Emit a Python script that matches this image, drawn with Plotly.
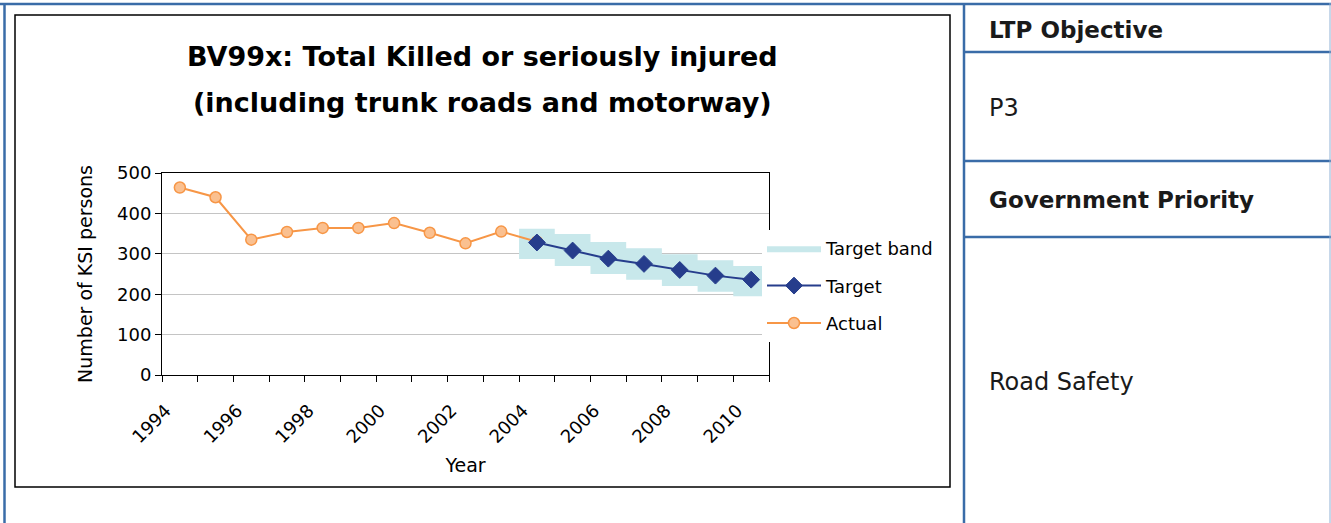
import plotly.graph_objects as go

# ---------------- data ----------------
years = list(range(1994, 2011))
actual_years = list(range(1994, 2005))
actual_values = [464, 440, 335, 354, 364, 364, 376, 352, 326, 355, 330]
target_years = list(range(2004, 2011))
target_values = [328, 308, 288, 275, 260, 246, 236]
band_high = [362, 349, 329, 314, 299, 284, 270]
band_low = [287, 270, 250, 236, 220, 206, 195]
tick_years = years[::2]
tick_labels = [str(y) for y in tick_years]
y_ticks = [0, 100, 200, 300, 400, 500]

title_lines = ["BV99x: Total Killed or seriously injured",
               "(including trunk roads and motorway)"]
side_header_1 = "LTP Objective"
side_value_1 = "P3"
side_header_2 = "Government Priority"
side_value_2 = "Road Safety"

# ---------------- layout geometry ----------------
W, H = 1331, 523
ML, MR, MT, MB = 162, 562, 173, 148
PW = W - ML - MR
PH = H - MT - MB


def px(x):
    return (x - ML) / PW


def py(y):
    return (H - MB - y) / PH


FONT = "DejaVu Sans"
BLUE = "#3a6ca8"
ORANGE = "#f79646"
NAVY = "#263d8c"
BAND = "#c8e8eb"

# band polygon derived from the band arrays (one category wide per year)
band_x, band_y = [], []
for yr, hi in zip(target_years, band_high):
    band_x += [yr - 0.5, yr + 0.5]
    band_y += [hi, hi]
for yr, lo in zip(reversed(target_years), reversed(band_low)):
    band_x += [yr + 0.5, yr - 0.5]
    band_y += [lo, lo]

fig = go.Figure()
fig.add_trace(go.Scatter(
    x=band_x, y=band_y, fill="toself", fillcolor=BAND, mode="lines",
    line=dict(width=0, color=BAND), name="Target band", legendgroup="a",
    legendrank=1, hoverinfo="skip"))
fig.add_trace(go.Scatter(
    x=actual_years, y=actual_values, mode="lines+markers", name="Actual",
    line=dict(color=ORANGE, width=2), legendgroup="c", legendrank=3,
    marker=dict(symbol="circle", size=11, color="#fac090",
                line=dict(color=ORANGE, width=1.5))))
fig.add_trace(go.Scatter(
    x=target_years, y=target_values, mode="lines+markers", name="Target",
    line=dict(color=NAVY, width=2), legendgroup="b", legendrank=2,
    marker=dict(symbol="diamond", size=13, color=NAVY,
                line=dict(color=NAVY, width=1))))

boundaries = [y - 0.5 for y in years] + [years[-1] + 0.5]

fig.update_xaxes(
    range=[years[0] - 0.5, years[-1] + 0.5],
    tickmode="array", tickvals=tick_years, ticktext=tick_labels,
    ticks="", tickangle=-45, tickfont=dict(family=FONT, size=18, color="black"),
    ticklabelshift=-14, ticklabelstandoff=17,
    showline=True, linecolor="black", linewidth=1, mirror=True,
    showgrid=False, zeroline=False,
    minor=dict(tickmode="array", tickvals=boundaries, ticks="outside",
               ticklen=6, tickcolor="black", tickwidth=1, showgrid=False),
    title=dict(text="Year", font=dict(family=FONT, size=19, color="black"),
               standoff=12),
)
fig.update_yaxes(
    range=[0, 500], tickmode="array", tickvals=y_ticks,
    ticks="outside", ticklen=6, tickcolor="black",
    tickfont=dict(family=FONT, size=18, color="black"),
    showline=True, linecolor="black", linewidth=1, mirror=True,
    showgrid=True, gridcolor="#c4c4c4", gridwidth=1, zeroline=False,
    title=dict(text="Number of KSI persons",
               font=dict(family=FONT, size=19, color="black"), standoff=19),
)

shapes = []
# chart frame
shapes.append(dict(type="rect", xref="paper", yref="paper",
                   x0=px(15), x1=px(950), y0=py(15), y1=py(487),
                   line=dict(color="black", width=1.5)))
# outer table borders
blue_lines = [
    (0, 4, W, 4),
    (4.5, 3, 4.5, H),
    (964, 3, 964, H),
    (964, 52, W, 52),
    (964, 161, W, 161),
    (964, 237, W, 237),
]
for x0, y0, x1, y1 in blue_lines:
    shapes.append(dict(type="line", xref="paper", yref="paper",
                       x0=px(x0), x1=px(x1), y0=py(y0), y1=py(y1),
                       line=dict(color=BLUE, width=2.5)))
shapes.append(dict(type="line", xref="paper", yref="paper",
                   x0=px(1330), x1=px(1330), y0=py(3), y1=py(H),
                   line=dict(color="#8fb0d4", width=1)))

annotations = []
for text, yc in zip(title_lines, [57, 103]):
    annotations.append(dict(text=text, xref="paper", yref="paper",
                            x=px(482), y=py(yc), xanchor="center",
                            yanchor="middle", showarrow=False,
                            font=dict(family=FONT, size=27, color="black",
                                      weight="bold")))
side = [(side_header_1, 30, True), (side_value_1, 108, False),
        (side_header_2, 200, True), (side_value_2, 382, False)]
for text, yc, bold in side:
    annotations.append(dict(text=text, xref="paper", yref="paper",
                            x=px(987), y=py(yc), xanchor="left",
                            yanchor="middle", showarrow=False,
                            font=dict(family=FONT, size=23 if bold else 24,
                                      color="#1a1a1a",
                                      weight="bold" if bold else "normal")))

fig.update_layout(
    width=W, height=H,
    margin=dict(l=ML, r=MR, t=MT, b=MB, autoexpand=False),
    paper_bgcolor="white", plot_bgcolor="white",
    showlegend=True,
    legend=dict(x=px(762), y=py(230), xanchor="left", yanchor="top",
                bgcolor="white", borderwidth=0,
                font=dict(family=FONT, size=18, color="black"),
                itemwidth=54, tracegroupgap=11, traceorder="grouped"),
    shapes=shapes, annotations=annotations,
    font=dict(family=FONT),
)

fig.write_html("out.html", config={"displayModeBar": False},
               post_script="document.body.style.margin='0';")
